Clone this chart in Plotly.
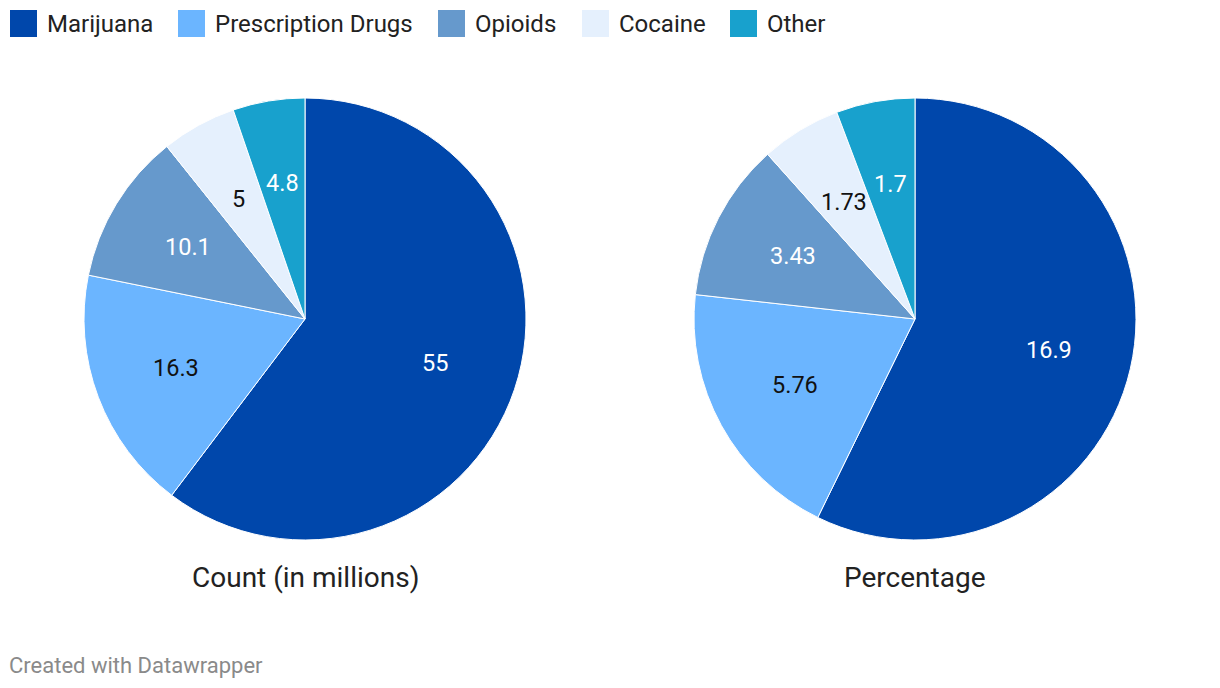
import math
import plotly.graph_objects as go

# ---- data ----
categories = ["Marijuana", "Prescription Drugs", "Opioids", "Cocaine", "Other"]
count_millions = [55, 16.3, 10.1, 5, 4.8]
percentage = [16.9, 5.76, 3.43, 1.73, 1.7]
count_labels = ["55", "16.3", "10.1", "5", "4.8"]
percent_labels = ["16.9", "5.76", "3.43", "1.73", "1.7"]
pie_titles = ["Count (in millions)", "Percentage"]

# ---- styles ----
colors = ["#0047ab", "#6bb5ff", "#6699cc", "#e5f0fd", "#18a1cd"]
label_colors = ["#ffffff", "#111111", "#ffffff", "#111111", "#ffffff"]
FONT = "Roboto, Arial, sans-serif"
W, H = 1220, 688
OFF = 8  # page body margin
R = 221
centers = [(305, 319), (915, 319)]
legend_x = [10, 178, 438, 582, 730]

fig = go.Figure()

def px_x(x):
    return (x - OFF) / W

def px_y(y):
    return 1 - (y - OFF) / H

annotations = []
shapes = []
for (cx, cy), vals, labels, title in zip(
    centers, [count_millions, percentage], [count_labels, percent_labels], pie_titles
):
    fig.add_trace(
        go.Pie(
            labels=categories,
            values=vals,
            sort=False,
            direction="clockwise",
            rotation=0,
            marker=dict(colors=colors, line=dict(color="#ffffff", width=1)),
            textinfo="none",
            hoverinfo="label+value",
            showlegend=False,
            domain=dict(x=[px_x(cx - R), px_x(cx + R)], y=[px_y(cy + R), px_y(cy - R)]),
        )
    )
    total = sum(vals)
    cum = 0
    for v, lab, lc in zip(vals, labels, label_colors):
        mid = (cum + v / 2) / total * 2 * math.pi
        cum += v
        rr = 0.622 * R
        x = cx + rr * math.sin(mid)
        y = cy - rr * math.cos(mid)
        annotations.append(
            dict(x=px_x(x), y=px_y(y), xref="paper", yref="paper", text=lab,
                 showarrow=False, xanchor="center", yanchor="middle",
                 font=dict(family=FONT, size=23.5, color=lc))
        )
    annotations.append(
        dict(x=px_x(cx), y=px_y(577), xref="paper", yref="paper", text=title,
             showarrow=False, xanchor="center", yanchor="middle",
             font=dict(family=FONT, size=28, color="#222222"))
    )

# legend
for lx, cat, col in zip(legend_x, categories, colors):
    shapes.append(
        dict(type="rect", xref="paper", yref="paper",
             x0=px_x(lx), x1=px_x(lx + 27), y0=px_y(37), y1=px_y(10),
             fillcolor=col, line=dict(width=0))
    )
    annotations.append(
        dict(x=px_x(lx + 35), y=px_y(24), xref="paper", yref="paper", text=cat,
             showarrow=False, xanchor="left", yanchor="middle",
             font=dict(family=FONT, size=24, color="#222222"))
    )

annotations.append(
    dict(x=px_x(7), y=px_y(665), xref="paper", yref="paper", text="Created with Datawrapper",
         showarrow=False, xanchor="left", yanchor="middle",
         font=dict(family=FONT, size=22, color="#8a8a8a"))
)

fig.update_layout(
    width=W, height=H,
    margin=dict(l=0, r=0, t=0, b=0),
    paper_bgcolor="#ffffff",
    plot_bgcolor="#ffffff",
    showlegend=False,
    annotations=annotations,
    shapes=shapes,
    font=dict(family=FONT),
)

fig.write_html("out.html")
